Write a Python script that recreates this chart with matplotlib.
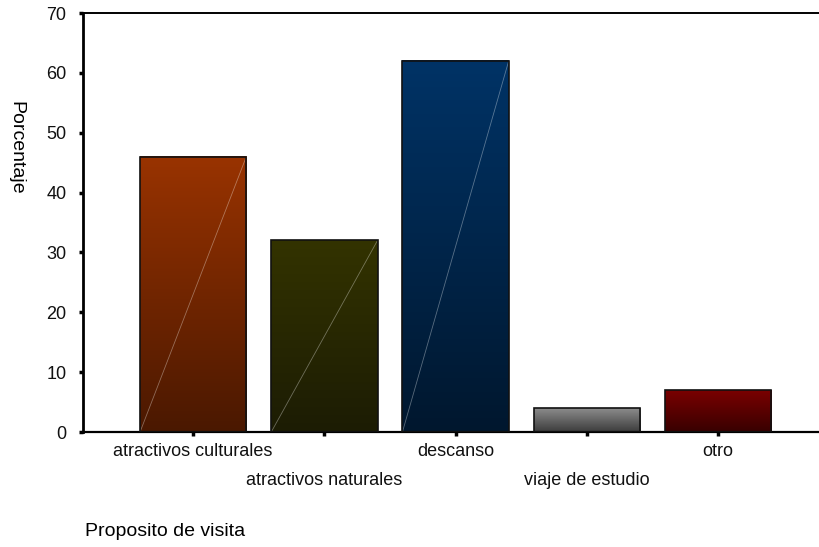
import numpy as np
import matplotlib
matplotlib.use("Agg")
import matplotlib.pyplot as plt
from matplotlib.colors import LinearSegmentedColormap

plt.rcParams["font.family"] = ["Liberation Sans", "DejaVu Sans"]

categories = ["atractivos culturales", "atractivos naturales", "descanso",
              "viaje de estudio", "otro"]
values = [46, 32, 62, 4, 7]
top_colors = ["#993300", "#333300", "#003366", "#8c8c8c", "#7a0000"]
bottom_colors = ["#4a1800", "#1c1c04", "#00172e", "#3c3c3c", "#380000"]
yticks = [0, 10, 20, 30, 40, 50, 60, 70]

fig = plt.figure(figsize=(8.19, 5.47), dpi=100)
ax = fig.add_axes([0.1013, 0.2102, 0.8987, 0.766])

width = 0.81
x = np.arange(len(categories))
grad = np.linspace(0, 1, 256).reshape(-1, 1)
for xi, v, ct, cb in zip(x, values, top_colors, bottom_colors):
    cmap = LinearSegmentedColormap.from_list("g", [cb, ct])
    ax.imshow(grad, extent=(xi - width / 2, xi + width / 2, 0, v), origin="lower",
              cmap=cmap, aspect="auto", zorder=2, interpolation="bilinear")
    ax.bar(xi, v, width=width, facecolor="none", edgecolor="#111111", linewidth=1.2, zorder=3)
    if v > 10:
        ax.plot([xi - width / 2, xi + width / 2], [0, v], color="white", alpha=0.35,
                linewidth=0.6, zorder=2.5)

ax.set_xlim(-0.84, 4.77)
ax.set_ylim(0, 70)
ax.set_yticks(yticks)
ax.set_yticklabels([str(t) for t in yticks], fontsize=13)
ax.set_xticks(x)
ax.set_xticklabels(categories, fontsize=13)
for i, t in enumerate(ax.xaxis.get_major_ticks()):
    t.set_pad(5 if i % 2 == 0 else 26)

ax.tick_params(axis="y", direction="out", length=3, width=2.5, pad=9, colors="black")
ax.tick_params(axis="x", direction="out", length=3, width=2.5, colors="black")
for lbl in ax.get_xticklabels() + ax.get_yticklabels():
    lbl.set_color("#111111")

ax.spines["right"].set_visible(False)
ax.spines["left"].set_linewidth(2.0)
ax.spines["bottom"].set_linewidth(1.6)
ax.spines["top"].set_linewidth(1.4)

fig.text(0.019, 0.73, "Porcentaje", rotation=270, ha="center", va="center", fontsize=14)
fig.text(0.104, 0.028, "Proposito de visita", ha="left", va="center", fontsize=14)

fig.savefig("out.png", dpi=100)
